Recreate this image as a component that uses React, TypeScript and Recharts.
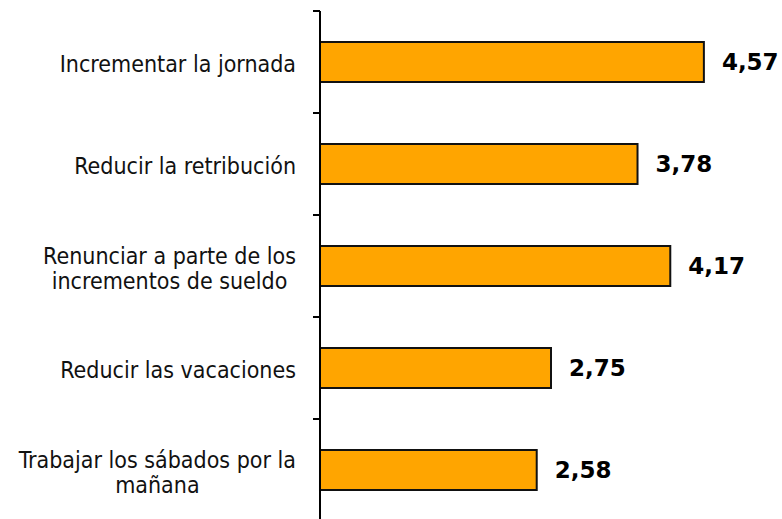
import React from 'react';
import { BarChart, Bar, XAxis, YAxis, LabelList } from 'recharts';

const categories: string[] = [
  'Incrementar la jornada',
  'Reducir la retribución',
  'Renunciar a parte de los\nincrementos de sueldo',
  'Reducir las vacaciones',
  'Trabajar los sábados por la\nmañana',
];
const values: number[] = [4.57, 3.78, 4.17, 2.75, 2.58];

const data = categories.map((c, i) => ({ name: c, value: values[i] }));

const W = 782;
const H = 530;
const MARGIN = { top: 11, right: 42, bottom: 9, left: 0 };
const PLOT_H = H - MARGIN.top - MARGIN.bottom;
const BAND = PLOT_H / categories.length;
const TICK_MARGIN = 24;
const CAT_FONT = "'DejaVu Sans Condensed', 'DejaVu Sans', sans-serif";
const CAT_SIZE = 23;

let ctx: CanvasRenderingContext2D | null = null;
function measure(text: string): number {
  if (!ctx) {
    const c = document.createElement('canvas');
    ctx = c.getContext('2d');
  }
  if (!ctx) return text.length * CAT_SIZE * 0.5;
  ctx.font = `${CAT_SIZE}px ${CAT_FONT}`;
  return ctx.measureText(text).width;
}

const CategoryTick = (props: any) => {
  const { x, y, payload, index } = props;
  const lines: string[] = String(payload.value).split('\n');
  const axisX = x + TICK_MARGIN;
  const widths = lines.map(measure);
  const maxW = Math.max(...widths);
  const centerX = x - maxW / 2;
  const lineH = 25;
  const top = y - BAND / 2;
  return (
    <g>
      <line x1={axisX - 7} x2={axisX} y1={top} y2={top} stroke="#000" strokeWidth={2} />
      {index === categories.length - 1 && (
        <line x1={axisX - 7} x2={axisX} y1={y + BAND / 2} y2={y + BAND / 2} stroke="#000" strokeWidth={2} />
      )}
      {lines.map((ln, i) => {
        const lc = y + (i - (lines.length - 1) / 2) * lineH;
        return (
          <text
            key={i}
            x={lines.length > 1 ? centerX : x}
            y={lc + 10}
            textAnchor={lines.length > 1 ? 'middle' : 'end'}
            fontFamily={CAT_FONT}
            fontSize={CAT_SIZE}
            fill="#111"
          >
            {ln}
          </text>
        );
      })}
    </g>
  );
};

const fmt = (v: any) => Number(v).toFixed(2).replace('.', ',');

export default function App() {
  return (
    <div style={{ position: 'absolute', left: 0, top: 0, width: W, height: 519, overflow: 'hidden', background: '#fff' }}>
      <BarChart width={W} height={H} data={data} layout="vertical" margin={MARGIN}>
        <XAxis type="number" domain={[0, 5]} hide />
        <YAxis
          type="category"
          dataKey="name"
          width={320}
          tickSize={0}
          tickMargin={TICK_MARGIN}
          axisLine={{ stroke: '#000', strokeWidth: 2 }}
          tickLine={false}
          tick={<CategoryTick />}
          interval={0}
        />
        <Bar dataKey="value" fill="#FFA500" stroke="#111" strokeWidth={2} barSize={40} isAnimationActive={false}>
          <LabelList
            dataKey="value"
            position="right"
            offset={18}
            formatter={fmt}
            style={{ fontFamily: "'DejaVu Sans', sans-serif", fontWeight: 700, fontSize: 23, fill: '#000' }}
          />
        </Bar>
      </BarChart>
    </div>
  );
}
